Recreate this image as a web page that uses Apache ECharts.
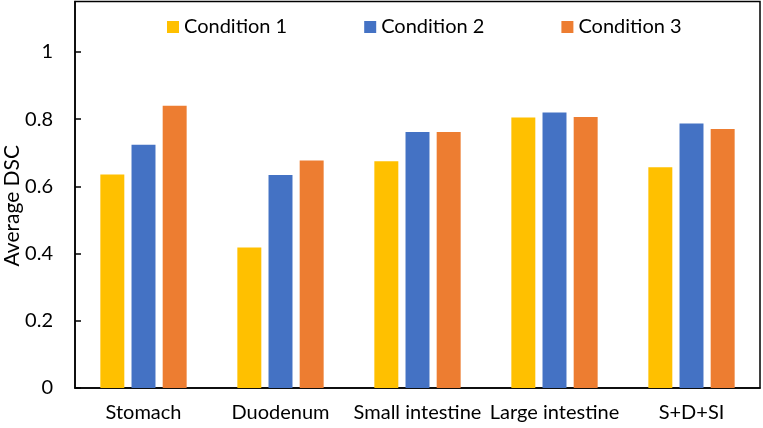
<!DOCTYPE html>
<html>
<head>
<meta charset="utf-8">
<script src="https://cdn.jsdelivr.net/npm/echarts@6/dist/echarts.min.js"></script>
<style>
  html, body { margin: 0; padding: 0; background: #fff; }
  #chart { width: 763px; height: 428px; }
</style>
</head>
<body>
<div id="chart"></div>
<script>
var categories = ['Stomach', 'Duodenum', 'Small intestine', 'Large intestine', 'S+D+SI'];
var cond1 = [0.635, 0.418, 0.675, 0.805, 0.657];
var cond2 = [0.724, 0.634, 0.762, 0.820, 0.787];
var cond3 = [0.840, 0.677, 0.762, 0.806, 0.771];
var seriesNames = ['Condition 1', 'Condition 2', 'Condition 3'];
var yTicks = [0, 0.2, 0.4, 0.6, 0.8, 1];

var chart = echarts.init(document.getElementById('chart'));
var font = 'Lato, "Open Sans", sans-serif';

function bar(name, data, color) {
  return {
    name: name,
    type: 'bar',
    data: data,
    barWidth: '17.5%',
    barGap: '30%',
    itemStyle: { color: color }
  };
}

var option = {
  animation: false,
  textStyle: { fontFamily: font },
  legend: {
    top: 12,
    left: 162,
    itemWidth: 12,
    itemHeight: 12,
    itemGap: 77,
    icon: 'rect',
    textStyle: { fontSize: 20, color: '#000', fontFamily: font },
    data: seriesNames
  },
  grid: {
    left: 75, right: 3, top: 1.5, bottom: 40,
    outerBoundsMode: 'none',
    containLabel: false,
    show: true,
    borderColor: '#000',
    borderWidth: 1.5
  },
  xAxis: {
    type: 'category',
    data: categories,
    axisLine: { lineStyle: { color: '#000', width: 1.5 } },
    axisTick: { show: false },
    axisLabel: { color: '#000', fontSize: 20, margin: 15, interval: 0, fontFamily: font }
  },
  yAxis: {
    type: 'value',
    min: 0,
    max: 1.15,
    interval: 0.2,
    name: 'Average DSC',
    nameLocation: 'middle',
    nameGap: 52,
    nameMoveOverlap: false,
    nameTextStyle: { fontSize: 21, color: '#000', fontFamily: font, padding: [0, 22, 0, 0] },
    axisLine: { show: true, lineStyle: { color: '#000', width: 1.5 } },
    axisTick: { show: true, inside: true, length: 6, lineStyle: { color: '#000', width: 1.5 } },
    splitLine: { show: false },
    axisLabel: {
      color: '#000', fontSize: 20, margin: 22, fontFamily: font,
      showMaxLabel: false,
      formatter: function (v) {
        var r = Math.round(v * 10) / 10;
        return yTicks.indexOf(r) >= 0 ? String(r) : '';
      }
    }
  },
  series: [
    bar(seriesNames[0], cond1, '#FFC000'),
    bar(seriesNames[1], cond2, '#4472C4'),
    bar(seriesNames[2], cond3, '#ED7D31')
  ]
};

chart.setOption(option);
</script>
</body>
</html>
